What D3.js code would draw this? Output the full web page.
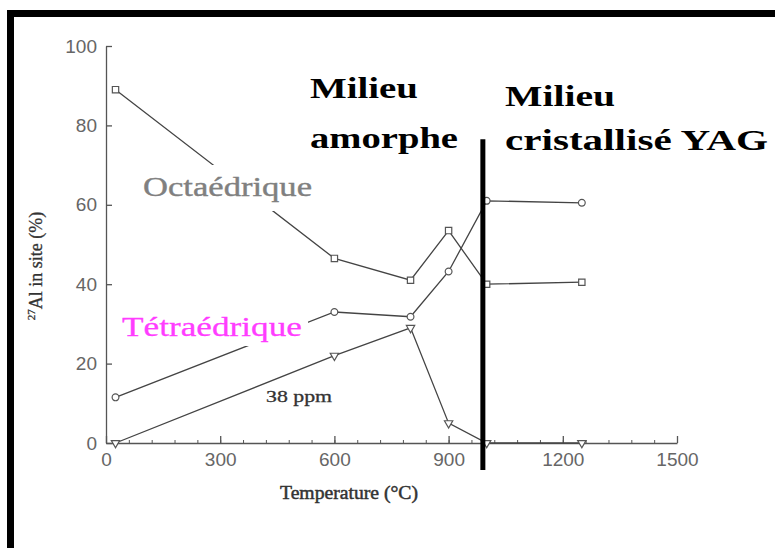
<!DOCTYPE html>
<html><head><meta charset="utf-8">
<script src="https://cdn.jsdelivr.net/npm/d3@7/dist/d3.min.js"></script>
<style>
html,body{margin:0;padding:0;background:#fff;}
svg{display:block;}
</style></head>
<body>
<script>
// Data (temperature °C, % 27Al in site)
const temperatures = [25, 600, 800, 900, 1000, 1250];
const octaedrique  = [89, 46.5, 41, 53.5, 40, 40.5];
const tetraedrique = [11.5, 33, 31.8, 43.2, 61, 60.5];
const ppm38        = [0, 22, 29, 5, 0, 0];
const xTicks = [0, 300, 600, 900, 1200, 1500];
const yTicks = [0, 20, 40, 60, 80, 100];
const boundaryT = 990;

const W = 775, H = 548;
const svg = d3.select("body").append("svg").attr("width", W).attr("height", H);
svg.append("rect").attr("width", W).attr("height", H).attr("fill", "#fff");

// frame (top and left black bars)
svg.append("rect").attr("x", 7).attr("y", 10).attr("width", W - 7).attr("height", 7).attr("fill", "#000");
svg.append("rect").attr("x", 7).attr("y", 10).attr("width", 7).attr("height", H - 10).attr("fill", "#000");

const x = d3.scaleLinear().domain([0, 1500]).range([106, 677]);
const y = d3.scaleLinear().domain([0, 100]).range([443, 46]);

const axisColor = "#555";
const fmt = d3.format("d");
// minor x ticks
const gxm = svg.append("g").attr("transform", `translate(0,${y(0)})`)
  .call(d3.axisBottom(x).tickValues(d3.range(0, 1501, 60)).tickSizeInner(-3).tickSizeOuter(0).tickFormat(""));
gxm.select(".domain").remove();
gxm.selectAll("line").attr("stroke", axisColor);

const gx = svg.append("g").attr("transform", `translate(0,${y(0)})`)
  .call(d3.axisBottom(x).tickValues(xTicks).tickFormat(fmt).tickSizeInner(-7).tickSizeOuter(0).tickPadding(10));
gx.select(".domain").attr("stroke", axisColor).attr("stroke-width", 1.3);
gx.selectAll("line").attr("stroke", axisColor).attr("stroke-width", 1.3);
gx.selectAll("text").attr("font-family", "Liberation Sans, Arial, sans-serif").attr("font-size", 19).attr("fill", "#666");

const gy = svg.append("g").attr("transform", `translate(${x(0)},0)`)
  .call(d3.axisLeft(y).tickValues(yTicks).tickFormat(fmt).tickSizeInner(-6).tickSizeOuter(0).tickPadding(9));
gy.select(".domain").attr("stroke", axisColor).attr("stroke-width", 1.3);
gy.selectAll("line").attr("stroke", axisColor).attr("stroke-width", 1.3);
gy.selectAll("text").attr("font-family", "Liberation Sans, Arial, sans-serif").attr("font-size", 19).attr("fill", "#666");

// axis titles
svg.append("text").attr("x", 280).attr("y", 499)
  .attr("font-family", "Liberation Serif, Times New Roman, serif").attr("font-size", 19)
  .attr("fill", "#333").attr("stroke", "#333").attr("stroke-width", 0.5)
  .attr("textLength", 138).attr("lengthAdjust", "spacingAndGlyphs")
  .text("Temperature (°C)");

const yt = svg.append("text").attr("transform", "translate(42,266) rotate(-90)")
  .attr("text-anchor", "middle")
  .attr("font-family", "Liberation Serif, Times New Roman, serif").attr("font-size", 18)
  .attr("fill", "#333").attr("stroke", "#333").attr("stroke-width", 0.3);
yt.append("tspan").attr("font-size", 11).attr("dy", -7).text("27");
yt.append("tspan").attr("dy", 7).text("Al in site (%)");

// series
const line = d3.line().x(d => x(d[0])).y(d => y(d[1]));
const series = [
  {vals: octaedrique, sym: d3.symbolSquare, size: 40},
  {vals: tetraedrique, sym: d3.symbolCircle, size: 36},
  {vals: ppm38, sym: d3.symbolTriangle, size: 30, rot: 180}
];
series.forEach(s => {
  const pts = temperatures.map((t, i) => [t, s.vals[i]]);
  svg.append("path").attr("d", line(pts)).attr("fill", "none").attr("stroke", "#444").attr("stroke-width", 1.3);
  svg.selectAll(null).data(pts).enter().append("path")
    .attr("d", d3.symbol().type(s.sym).size(s.size))
    .attr("transform", d => `translate(${x(d[0])},${y(d[1])}) rotate(${s.rot || 0})`)
    .attr("fill", "#fff").attr("stroke", "#555").attr("stroke-width", 1.2);
});

// series labels with white background gaps
svg.append("rect").attr("x", 138).attr("y", 165).attr("width", 180).attr("height", 46).attr("fill", "#fff");
svg.append("text").attr("x", 143).attr("y", 196)
  .attr("font-family", "Liberation Serif, Times New Roman, serif").attr("font-size", 28)
  .attr("fill", "#808080").attr("stroke", "#808080").attr("stroke-width", 0.4)
  .attr("textLength", 169).attr("lengthAdjust", "spacingAndGlyphs")
  .text("Octaédrique");

svg.append("rect").attr("x", 118).attr("y", 318).attr("width", 190).attr("height", 28).attr("fill", "#fff");
svg.append("text").attr("x", 122).attr("y", 336)
  .attr("font-family", "Liberation Serif, Times New Roman, serif").attr("font-size", 28)
  .attr("fill", "#ff3dff").attr("stroke", "#ff3dff").attr("stroke-width", 0.3)
  .attr("textLength", 180).attr("lengthAdjust", "spacingAndGlyphs")
  .text("Tétraédrique");

svg.append("text").attr("x", 266).attr("y", 402)
  .attr("font-family", "Liberation Serif, Times New Roman, serif").attr("font-size", 16)
  .attr("fill", "#333").attr("stroke", "#333").attr("stroke-width", 0.3)
  .attr("textLength", 66).attr("lengthAdjust", "spacingAndGlyphs")
  .text("38 ppm");

// boundary line
svg.append("line").attr("x1", x(boundaryT)).attr("x2", x(boundaryT)).attr("y1", y(76.5)).attr("y2", y(-6.8))
  .attr("stroke", "#000").attr("stroke-width", 5);

// annotations
const ann = (t, xx, yy, len) => svg.append("text").attr("x", xx).attr("y", yy)
  .attr("font-family", "Liberation Serif, Times New Roman, serif").attr("font-size", 30).attr("font-weight", "bold")
  .attr("fill", "#000").attr("textLength", len).attr("lengthAdjust", "spacingAndGlyphs").text(t);
ann("Milieu", 310, 98, 108);
ann("amorphe", 310, 148, 148);
ann("Milieu", 505, 106, 110);
ann("cristallisé YAG", 505, 150, 263);
</script>
</body></html>
